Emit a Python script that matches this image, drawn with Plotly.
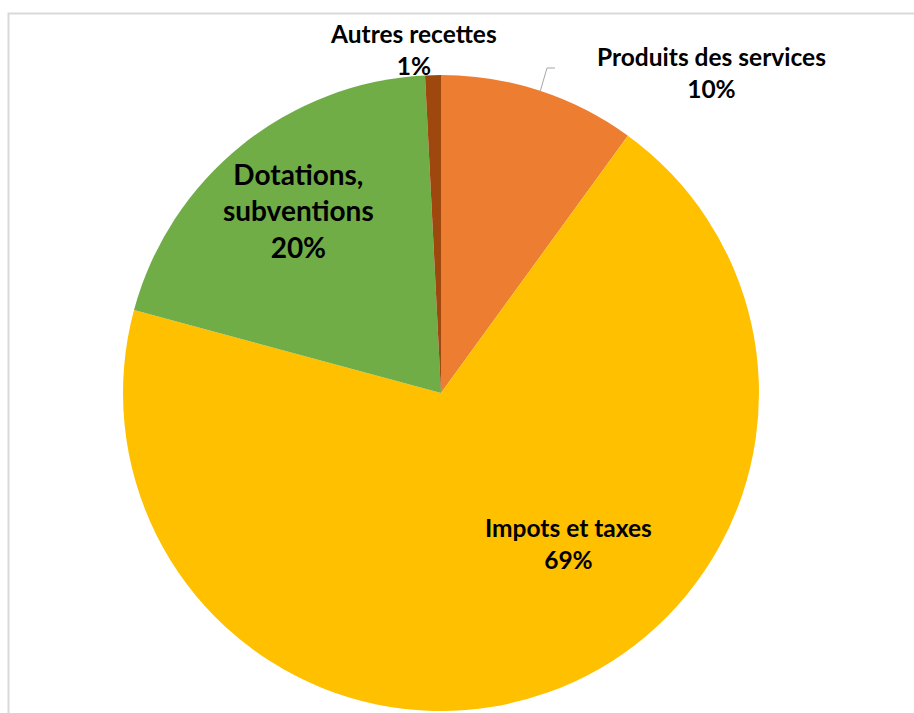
import plotly.graph_objects as go

labels = ["Produits des services", "Impots et taxes", "Dotations, subventions", "Autres recettes"]
values = [10.0, 69.2, 20.0, 0.8]
colors = ["#ED7D31", "#FFC000", "#70AD47", "#9E480E"]

W, H = 914, 713
total = sum(values)
pct = [f"{round(v / total * 100)}%" for v in values]

fig = go.Figure(go.Pie(
    labels=labels, values=values, sort=False, direction="clockwise", rotation=0,
    marker=dict(colors=colors, line=dict(width=0)),
    textinfo="none", hoverinfo="label+percent", showlegend=False,
    domain=dict(x=[123 / W, 759 / W], y=[1 - 711 / H, 1 - 75 / H]),
))

def px(x, y):
    return x / W, 1 - y / H

font = dict(family="Lato, 'Open Sans', sans-serif", color="#000000")
ann = []
# label definitions: (text lines, center x, center y, size)
specs = [
    (["Produits des services", pct[0]], 711, 72, 24.5),
    (["Impots et taxes", pct[1]], 568, 543, 24.5),
    (["Dotations,", "subventions", pct[2]], 298, 210, 28),
    (["Autres recettes", pct[3]], 413, 49, 24.5),
]
for lines, cx, cy, sz in specs:
    x, y = px(cx, cy)
    ann.append(dict(
        x=x, y=y, xref="paper", yref="paper", xanchor="center", yanchor="middle",
        showarrow=False, text="<br>".join(f"<b>{l}</b>" for l in lines),
        font=dict(size=sz, **font),
    ))

shapes = [
    dict(type="rect", xref="paper", yref="paper",
         x0=8.5 / W, x1=1.02, y0=-0.02, y1=1 - 13.5 / H,
         line=dict(color="#D9D9D9", width=2), fillcolor="rgba(0,0,0,0)", layer="below"),
    dict(type="path", xref="paper", yref="paper",
         path=f"M {555/W} {1-68/H} L {547/W} {1-68/H} L {540/W} {1-92/H}",
         line=dict(color="#A6A6A6", width=1)),
]

fig.update_layout(
    width=W, height=H, margin=dict(l=0, r=0, t=0, b=0),
    paper_bgcolor="white", plot_bgcolor="white",
    annotations=ann, shapes=shapes,
)
fig.write_html("out.html")
